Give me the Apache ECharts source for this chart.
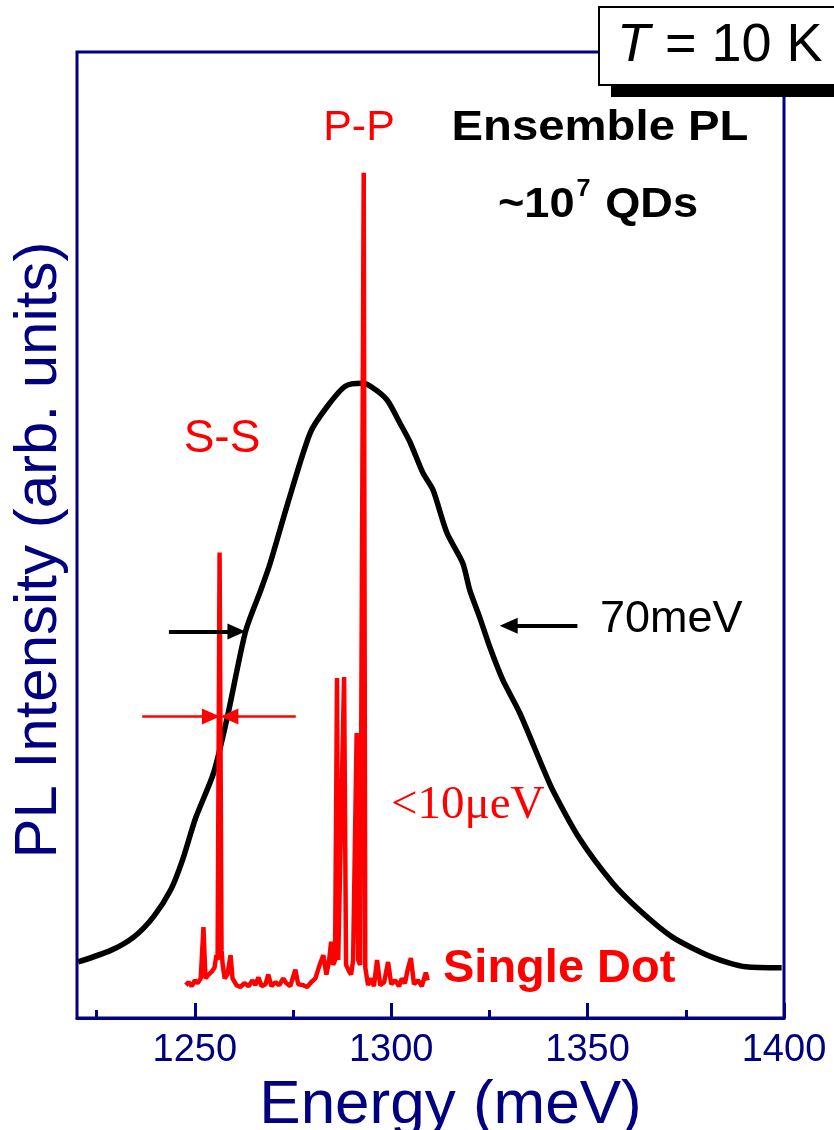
<!DOCTYPE html>
<html>
<head>
<meta charset="utf-8">
<script src="https://cdn.jsdelivr.net/npm/echarts@6/dist/echarts.min.js"></script>
<style>
html,body{margin:0;padding:0;background:#fff;}
#chart{width:834px;height:1130px;}
</style>
</head>
<body>
<div id="chart"></div>
<script>
// ---- data ----
const xMajorTicks = [1250, 1300, 1350, 1400];
const xMinorTicks = [1225, 1275, 1325, 1375];

const ensembleEnergy = [1220.3,1228.6,1234.5,1239.5,1243.9,1246.9,1250.2,1254.8,1258.3,1262.9,1266.7,1269.2,1273.6,1279.4,1283.7,1288.3,1292.6,1295.1,1298.9,1302.2,1304.8,1308.1,1310.6,1314.2,1318.2,1320.0,1322.5,1325.1,1328.4,1332.7,1338.5,1341.1,1347.9,1356.3,1363.1,1371.5,1381.7,1390.3,1399.4];
const ensembleIntensity = [5.8,7.0,8.4,10.5,13.3,16.4,20.7,25.4,31.2,40.0,44.2,47.1,53.2,60.6,63.3,65.4,65.7,65.3,64.0,61.6,59.6,56.4,54.7,50.2,47.1,44.3,41.5,38.4,35.0,31.6,26.0,23.6,18.6,14.0,11.2,8.4,6.3,5.3,5.2];

const dotEnergy = [1247.7,1248.4,1249.2,1250.0,1250.7,1251.5,1252.2,1252.7,1253.5,1254.3,1255.0,1255.5,1255.8,1256.3,1256.8,1257.1,1257.6,1258.3,1259.1,1259.6,1260.6,1261.6,1262.6,1263.7,1264.7,1265.4,1266.2,1267.0,1268.0,1268.7,1269.5,1270.5,1271.5,1272.5,1273.3,1274.3,1275.6,1276.3,1277.6,1278.6,1279.6,1280.7,1281.7,1282.7,1283.5,1284.2,1284.7,1285.2,1285.7,1286.2,1286.5,1287.0,1288.0,1288.5,1289.3,1289.8,1290.3,1291.2,1291.6,1292.1,1293.0,1293.4,1294.1,1294.9,1295.6,1296.4,1297.2,1298.2,1299.2,1300.0,1301.0,1302.0,1302.7,1303.5,1304.3,1305.0,1305.8,1306.8,1307.8,1308.8,1309.3];
const dotIntensity = [3.4,3.7,3.3,3.9,3.6,4.1,9.4,4.1,4.5,4.8,5.2,6.5,6.0,48.2,7.0,5.5,4.1,4.5,6.5,4.1,3.4,3.2,3.6,3.3,3.9,3.4,4.2,3.3,3.5,4.5,3.3,3.7,3.4,4.1,3.6,3.3,5.0,3.5,3.4,3.2,3.7,4.1,5.4,6.5,4.5,6.0,7.9,5.5,6.0,35.2,6.0,5.8,35.3,5.5,4.8,4.5,6.0,29.5,6.0,5.5,87.5,5.2,3.4,4.1,3.3,6.0,3.4,3.7,5.8,3.5,3.9,3.3,4.1,3.6,5.2,6.2,3.5,3.9,3.3,4.7,3.9];

// FWHM arrows (energy, intensity) — end point is the arrowhead centre
const fwhmEnsembleLeft = [[1243.4, 40.0], [1260.6, 40.0]];
const fwhmEnsembleRight = [[1347.4, 40.6], [1329.9, 40.6]];
const fwhmDotLeft = [[1236.6, 31.2], [1254.1, 31.2]];
const fwhmDotRight = [[1275.7, 31.2], [1258.8, 31.2]];

const NAVY = '#000080';
const RED = '#ff0000';
const SANS = '"Liberation Sans", Arial, sans-serif';
const SERIF = '"Liberation Serif", "Times New Roman", serif';

const zip = (a, b) => a.map((v, i) => [v, b[i]]);

const chart = echarts.init(document.getElementById('chart'), null, {renderer: 'canvas'});

const option = {
  backgroundColor: '#ffffff',
  animation: false,
  grid: {
    left: 77, right: 50, top: 52, bottom: 112,
    outerBoundsMode: 'none', containLabel: false,
    show: true, borderColor: NAVY, borderWidth: 3, backgroundColor: 'transparent'
  },
  xAxis: [{
    type: 'value', min: 1220, max: 1400,
    axisLine: {show: true, lineStyle: {color: NAVY, width: 3}},
    axisTick: {show: true, inside: true, length: 15, lineStyle: {color: NAVY, width: 3}, customValues: xMajorTicks},
    axisLabel: {show: true, customValues: xMajorTicks, color: NAVY, fontSize: 38, fontFamily: SANS, margin: 14,
      formatter: v => String(v)},
    splitLine: {show: false},
    name: 'Energy (meV)', nameLocation: 'middle', nameGap: 52,
    nameTextStyle: {color: NAVY, fontSize: 62, fontFamily: SANS, padding: [0, 0, 0, 40]}
  }, {
    type: 'value', min: 1220, max: 1400, position: 'bottom',
    axisLine: {show: false},
    axisTick: {show: true, inside: true, length: 8, lineStyle: {color: NAVY, width: 3}, customValues: xMinorTicks},
    axisLabel: {show: false},
    splitLine: {show: false}
  }],
  yAxis: {
    type: 'value', min: 0, max: 100,
    axisLine: {show: false}, axisTick: {show: false}, axisLabel: {show: false}, splitLine: {show: false},
    name: 'PL Intensity (arb. units)', nameLocation: 'middle', nameGap: 8,
    nameTextStyle: {color: NAVY, fontSize: 60, fontFamily: SANS, padding: [0, 30, 0, 0]}
  },
  series: [{
    name: 'Ensemble PL',
    type: 'line', xAxisIndex: 0, showSymbol: false, smooth: 0.25,
    lineStyle: {color: '#000000', width: 5.5},
    data: zip(ensembleEnergy, ensembleIntensity),
    z: 3,
    markLine: {
      silent: true, symbol: ['none', 'triangle'], symbolSize: [16, 18],
      label: {show: false},
      lineStyle: {color: '#000000', width: 4, type: 'solid'},
      data: [
        [{coord: fwhmEnsembleLeft[0]}, {coord: fwhmEnsembleLeft[1]}],
        [{coord: fwhmEnsembleRight[0]}, {coord: fwhmEnsembleRight[1]}]
      ]
    }
  }, {
    name: 'Single Dot',
    type: 'line', xAxisIndex: 0, showSymbol: false, smooth: false,
    lineStyle: {color: RED, width: 4.5},
    data: zip(dotEnergy, dotIntensity),
    z: 4,
    markLine: {
      silent: true, symbol: ['none', 'triangle'], symbolSize: [16, 18],
      label: {show: false},
      lineStyle: {color: RED, width: 2.5, type: 'solid'},
      data: [
        [{coord: fwhmDotLeft[0]}, {coord: fwhmDotLeft[1]}],
        [{coord: fwhmDotRight[0]}, {coord: fwhmDotRight[1]}]
      ]
    }
  }],
  graphic: [
    // T = 10 K box with shadow
    {type: 'rect', z: 100, shape: {x: 611, y: 19, width: 260, height: 78}, style: {fill: '#000000'}},
    {type: 'rect', z: 101, shape: {x: 599, y: 7, width: 260, height: 78}, style: {fill: '#ffffff', stroke: '#000000', lineWidth: 2}},
    {type: 'text', z: 102, x: 617, y: 46, style: {
      text: '{it|T} = 10 K', fill: '#000000', font: '54px ' + SANS, textVerticalAlign: 'middle',
      rich: {it: {fontStyle: 'italic', fontSize: 54, fontFamily: SANS, fill: '#000000'}}
    }},
    {type: 'text', z: 102, x: 359, y: 128, style: {text: 'P-P', fill: RED, font: '43px ' + SANS, textAlign: 'center', textVerticalAlign: 'middle'}},
    {type: 'text', z: 102, x: 600, y: 128, scaleX: 1.1, style: {text: 'Ensemble PL', fill: '#000000', font: 'bold 43px ' + SANS, textAlign: 'center', textVerticalAlign: 'middle'}},
    {type: 'text', z: 102, x: 598, y: 202, scaleX: 1.05, style: {
      text: '{n|~10}{sup|7}{n| QDs}', fill: '#000000', textAlign: 'center', textVerticalAlign: 'middle',
      rich: {
        n: {fontSize: 43, fontWeight: 'bold', fontFamily: SANS, fill: '#000000', lineHeight: 50, verticalAlign: 'bottom'},
        sup: {fontSize: 24, fontWeight: 'bold', fontFamily: SANS, fill: '#000000', lineHeight: 50, verticalAlign: 'top', padding: [0, 2, 0, 2]}
      }
    }},
    {type: 'text', z: 102, x: 222, y: 439, style: {text: 'S-S', fill: RED, font: '46px ' + SANS, textAlign: 'center', textVerticalAlign: 'middle'}},
    {type: 'text', z: 102, x: 600, y: 620, style: {text: '70meV', fill: '#000000', font: '45px ' + SANS, textAlign: 'left', textVerticalAlign: 'middle'}},
    {type: 'text', z: 102, x: 391, y: 806, style: {text: '<10\u03bceV', fill: RED, font: '47px ' + SERIF, textAlign: 'left', textVerticalAlign: 'middle'}},
    {type: 'text', z: 102, x: 443, y: 969, style: {text: 'Single Dot', fill: RED, font: 'bold 47px ' + SANS, textAlign: 'left', textVerticalAlign: 'middle'}}
  ]
};

chart.setOption(option);
</script>
</body>
</html>
